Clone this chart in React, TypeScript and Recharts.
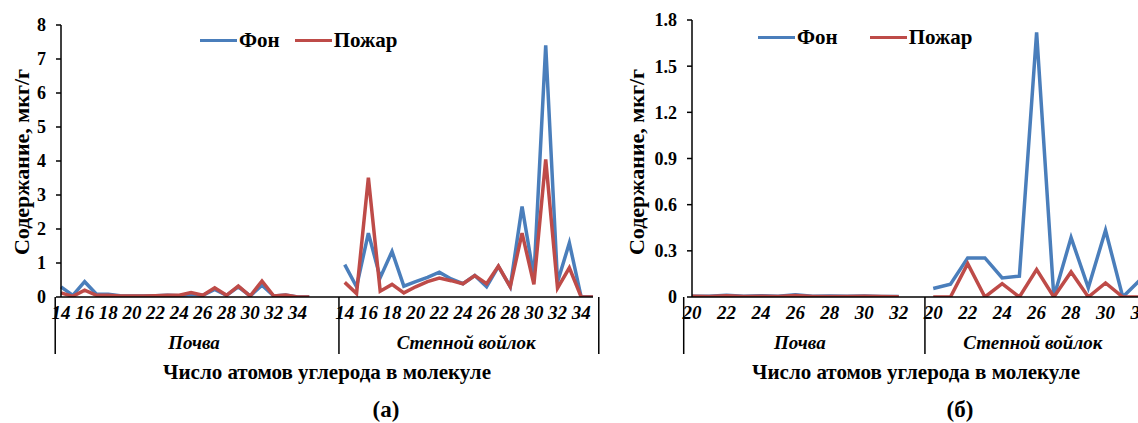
import { Legend, Line, LineChart, XAxis, YAxis } from "recharts";

const BLUE = "#4a7ebb";
const RED = "#be4b48";
const FONT = "Liberation Serif";

const seriesNames = ["Фон", "Пожар"];
const groupNames = ["Почва", "Степной войлок"];

// (а) — число атомов C, null = пустая категория
const soilAtomsA = [14, 15, 16, 17, 18, 19, 20, 21, 22, 23, 24, 25, 26, 27, 28, 29, 30, 31, 32, 33, 34, 35, null, null];
const soilFonA = [0.3, 0.05, 0.45, 0.08, 0.08, 0.04, 0.03, 0.03, 0.04, 0.05, 0.04, 0.07, 0.05, 0.22, 0.05, 0.3, 0.03, 0.35, 0.03, 0.06, 0, 0, null, null];
const soilFireA = [0.12, 0.02, 0.2, 0.05, 0.05, 0.03, 0.03, 0.03, 0.04, 0.05, 0.05, 0.13, 0.05, 0.27, 0.05, 0.32, 0.03, 0.47, 0.03, 0.06, 0, 0, null, null];
const steppeAtomsA = [14, 15, 16, 17, 18, 19, 20, 21, 22, 23, 24, 25, 26, 27, 28, 29, 30, 31, 32, 33, 34, 35];
const steppeFonA = [0.95, 0.3, 1.88, 0.57, 1.34, 0.32, 0.45, 0.58, 0.73, 0.53, 0.39, 0.63, 0.3, 0.9, 0.3, 2.66, 0.58, 7.4, 0.44, 1.59, 0, 0];
const steppeFireA = [0.43, 0.1, 3.51, 0.17, 0.37, 0.12, 0.3, 0.45, 0.56, 0.48, 0.39, 0.63, 0.39, 0.91, 0.3, 1.88, 0.37, 4.05, 0.26, 0.86, 0, 0];
const yTicksA = [0, 1, 2, 3, 4, 5, 6, 7, 8];

// (б)
const soilAtomsB = [20, 21, 22, 23, 24, 25, 26, 27, 28, 29, 30, 31, 32, null];
const soilFonB = [0.005, 0.005, 0.012, 0.005, 0.008, 0.005, 0.015, 0.005, 0.006, 0.005, 0.006, 0.004, 0.003, null];
const soilFireB = [0.005, 0.004, 0.008, 0.003, 0.005, 0.004, 0.01, 0.003, 0.004, 0.003, 0.005, 0.003, 0.002, null];
const steppeAtomsB = [20, 21, 22, 23, 24, 25, 26, 27, 28, 29, 30, 31, 32];
const steppeFonB = [0.055, 0.083, 0.254, 0.254, 0.124, 0.135, 1.72, 0, 0.386, 0.06, 0.434, 0, 0.11];
const steppeFireB = [0, 0, 0.217, 0, 0.087, 0, 0.178, 0, 0.163, 0, 0.091, 0, 0];
const yTicksB = [0, 0.3, 0.6, 0.9, 1.2, 1.5, 1.8];

type Row = {
  key: string;
  atom: number | null;
  fon: number | null;
  fire: number | null;
  first: boolean;
  last: boolean;
  count: number;
  group: string;
};

function buildRows(groups: { atoms: (number | null)[]; fon: (number | null)[]; fire: (number | null)[] }[]) {
  const rows: Row[] = [];
  groups.forEach((g, gi) => {
    g.atoms.forEach((atom, i) => {
      rows.push({
        key: `${gi}-${i}`,
        atom,
        fon: g.fon[i],
        fire: g.fire[i],
        first: i === 0,
        last: gi === groups.length - 1 && i === g.atoms.length - 1,
        count: g.atoms.length,
        group: groupNames[gi],
      });
    });
  });
  return rows;
}

const rowsA = buildRows([
  { atoms: soilAtomsA, fon: soilFonA, fire: soilFireA },
  { atoms: steppeAtomsA, fon: steppeFonA, fire: steppeFireA },
]);
const rowsB = buildRows([
  { atoms: soilAtomsB, fon: soilFonB, fire: soilFireB },
  { atoms: steppeAtomsB, fon: steppeFonB, fire: steppeFireB },
]);

function makeTick(rows: Row[], band: number) {
  return function CategoryTick(props: any) {
    const { x, y, index } = props;
    const row = rows[index];
    if (!row) return null;
    const left = x - band / 2;
    return (
      <g>
        {row.atom !== null && row.atom % 2 === 0 && (
          <text x={x} y={y + 22} textAnchor="middle" fontSize={19} fontStyle="italic" fontWeight={700} fontFamily={FONT} fill="#000">
            {row.atom}
          </text>
        )}
        {row.first && (
          <>
            <line x1={left} x2={left} y1={y} y2={y + 57} stroke="#000" strokeWidth={1.5} />
            <text x={left + (row.count * band) / 2} y={y + 52} textAnchor="middle" fontSize={19} fontStyle="italic" fontWeight={700} fontFamily={FONT} fill="#000">
              {row.group}
            </text>
          </>
        )}
        {row.last && <line x1={x + band / 2} x2={x + band / 2} y1={y} y2={y + 57} stroke="#000" strokeWidth={1.5} />}
      </g>
    );
  };
}

function LegendRow({ payload, gap }: any) {
  const items = [...(payload || [])].sort((a: any, b: any) => seriesNames.indexOf(a.value) - seriesNames.indexOf(b.value));
  return (
    <div style={{ display: "flex", alignItems: "center", fontFamily: FONT, fontWeight: 700, fontSize: 21, color: "#000", lineHeight: "22px" }}>
      {items.map((item: any, i: number) => (
        <div key={item.value} style={{ display: "flex", alignItems: "center", marginRight: i === 0 ? gap : 0 }}>
          <span style={{ display: "inline-block", width: 37, height: 3, background: item.color, marginRight: 2 }} />
          <span>{item.value}</span>
        </div>
      ))}
    </div>
  );
}

type PanelProps = {
  rows: Row[];
  width: number;
  left: number;
  plotLeft: number;
  plotRight: number;
  plotTop: number;
  plotBottom: number;
  yDomain: [number, number];
  yTicks: number[];
  yAxisWidth: number;
  legendLeft: number;
  legendTop: number;
  legendGap: number;
  titleX: number;
  letter: string;
  letterX: number;
};

const H = 423;

function Panel(p: PanelProps) {
  const band = (p.plotRight - p.plotLeft) / p.rows.length;
  const xAxisHeight = 60;
  return (
    <div style={{ position: "absolute", left: p.left, top: 0 }}>
      <LineChart
        width={p.width}
        height={H}
        data={p.rows}
        margin={{ top: p.plotTop, right: p.width - p.plotRight, left: p.plotLeft - p.yAxisWidth, bottom: H - p.plotBottom - xAxisHeight }}
      >
        <XAxis
          dataKey="key"
          interval={0}
          tickLine={false}
          tickSize={0}
          tickMargin={0}
          height={xAxisHeight}
          axisLine={{ stroke: "#000", strokeWidth: 1.5 }}
          tick={makeTick(p.rows, band)}
        />
        <YAxis
          width={p.yAxisWidth}
          domain={p.yDomain}
          ticks={p.yTicks}
          interval={0}
          allowDataOverflow
          tickSize={5}
          tickMargin={10}
          tickFormatter={(v: number) => (v === 0 ? "0" : Number.isInteger(p.yTicks[1]) ? String(v) : v.toFixed(1))}
          tick={{ fontSize: 18, fontFamily: FONT, fontWeight: 700, fill: "#000" }}
          tickLine={{ stroke: "#000", strokeWidth: 1.5 }}
          axisLine={{ stroke: "#000", strokeWidth: 1.5 }}
        />
        <Legend
          layout="horizontal"
          verticalAlign="middle"
          align="center"
          wrapperStyle={{ left: p.legendLeft, top: p.legendTop, width: "auto" }}
          content={(props: any) => <LegendRow payload={props.payload} gap={p.legendGap} />}
        />
        <Line dataKey="fon" name={seriesNames[0]} stroke={BLUE} strokeWidth={3.5} dot={false} isAnimationActive={false} />
        <Line dataKey="fire" name={seriesNames[1]} stroke={RED} strokeWidth={3.5} dot={false} isAnimationActive={false} />
        <text x={21} y={162} transform="rotate(-90 21 162)" textAnchor="middle" dominantBaseline="central" fontSize={22} fontWeight={700} fontFamily={FONT} fill="#000">
          Содержание, мкг/г
        </text>
        <text x={p.titleX} y={379} textAnchor="middle" fontSize={21} fontWeight={700} fontFamily={FONT} fill="#000">
          Число атомов углерода в молекуле
        </text>
        <text x={p.letterX} y={417} textAnchor="middle" fontSize={23} fontWeight={700} fontFamily={FONT} fill="#000">
          ({p.letter})
        </text>
      </LineChart>
    </div>
  );
}

export default function App() {
  return (
    <div style={{ position: "fixed", left: 0, top: 0, width: 1138, height: H, overflow: "hidden", background: "#fff" }}>
      <Panel
        rows={rowsA}
        width={615}
        left={0}
        plotLeft={61}
        plotRight={593}
        plotTop={25}
        plotBottom={297}
        yDomain={[0, 8]}
        yTicks={yTicksA}
        yAxisWidth={40}
        legendLeft={200}
        legendTop={29}
        legendGap={15}
        titleX={327}
        letter="а"
        letterX={386}
      />
      <Panel
        rows={rowsB}
        width={545}
        left={615}
        plotLeft={77}
        plotRight={525}
        plotTop={20}
        plotBottom={297}
        yDomain={[0, 1.8]}
        yTicks={yTicksB}
        yAxisWidth={50}
        legendLeft={143}
        legendTop={26}
        legendGap={32}
        titleX={301}
        letter="б"
        letterX={345}
      />
    </div>
  );
}
